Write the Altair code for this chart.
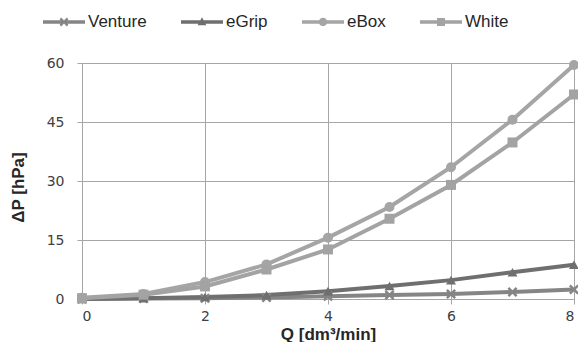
import altair as alt
import pandas as pd

# ---- data ----
Q = [0, 1, 2, 3, 4, 5, 6, 7, 8]
series_names = ["Venture", "eGrip", "eBox", "White"]
venture = [0.0, 0.1, 0.2, 0.4, 0.7, 1.0, 1.3, 1.8, 2.4]
egrip = [0.0, 0.2, 0.5, 1.0, 2.0, 3.3, 4.8, 6.8, 8.7]
ebox = [0.3, 1.3, 4.3, 8.8, 15.6, 23.4, 33.5, 45.6, 59.5]
white = [0.2, 1.1, 3.2, 7.5, 12.6, 20.4, 29.0, 39.8, 52.0]
x_ticks = [0, 2, 4, 6, 8]
y_ticks = [0, 15, 30, 45, 60]

rows = []
for name, vals in zip(series_names, [venture, egrip, ebox, white]):
    for q, v in zip(Q, vals):
        rows.append({"Q": q, "dP": v, "series": name})
df = pd.DataFrame(rows)

colors = ["#858585", "#6f6f6f", "#a5a5a5", "#a3a3a3"]

X_PATH = "M0,-0.35L0.65,-1L1,-0.65L0.35,0L1,0.65L0.65,1L0,0.35L-0.65,1L-1,0.65L-0.35,0L-1,-0.65L-0.65,-1Z"
LINE = "M-1,-0.085H1V0.085H-1Z"
s = 0.21
def sc(v):
    return round(v * s, 4)
X_SMALL = ("M0,{a}L{b},{c}L{d},{e}L{f},0L{d},{g}L{b},{h}L0,{i}L{j},{h}L{k},{g}L{l},0L{k},{e}L{j},{c}Z"
           .format(a=sc(-0.35), b=sc(0.65), c=sc(-1), d=sc(1), e=sc(-0.65), f=sc(0.35),
                   g=sc(0.65), h=sc(1), i=sc(0.35), j=sc(-0.65), k=sc(-1), l=sc(-0.35)))
legend_paths = [
    LINE + X_SMALL,
    LINE + "M0,-0.23L0.21,0.15L-0.21,0.15Z",
    LINE + "M0.2,0A0.2,0.2 0 1 1 -0.2,0A0.2,0.2 0 1 1 0.2,0Z",
    LINE + "M-0.19,-0.19H0.19V0.19H-0.19Z",
]

shape_expr = ("datum.series == 'Venture' ? '" + X_PATH + "' : datum.series == 'eGrip' ? 'triangle-up' : "
              "datum.series == 'eBox' ? 'circle' : 'square'")
color_expr = " : ".join(
    "datum.series == '{}' ? '{}'".format(n, c) for n, c in zip(series_names[:-1], colors[:-1])
) + " : '{}'".format(colors[-1])

grid_col = "#a6a6a6"

x_enc = alt.X("Q:Q", scale=alt.Scale(domain=[0, 8], nice=False),
              axis=alt.Axis(values=x_ticks, format="d", title="Q [dm³/min]", grid=True,
                            labelPadding=5, titleY=27))
y_enc = alt.Y("dP:Q", scale=alt.Scale(domain=[0, 60], nice=False),
              axis=alt.Axis(values=y_ticks, format="d", title="ΔP [hPa]", grid=True,
                            labelPadding=13, titleX=-55, titleY=124))

base = alt.Chart(df).transform_calculate(col=color_expr, shp=shape_expr)

lines = base.mark_line(strokeWidth=4).encode(
    x=x_enc, y=y_enc, color=alt.Color("col:N", scale=None), detail="series:N"
)

points = base.mark_point(filled=True, size=100, opacity=1).encode(
    x="Q:Q", y="dP:Q", color=alt.Color("col:N", scale=None),
    shape=alt.Shape("shp:N", scale=None)
)

leg = alt.Legend(title=None, orient="none", direction="horizontal", legendX=-39, legendY=-62,
                 symbolSize=1764, symbolStrokeWidth=0, symbolOpacity=1, labelFont="Liberation Sans",
                 labelFontSize=17, labelColor="#262626", labelOffset=3, columnPadding=34)

legend_layer = base.mark_point(filled=True, size=70, opacity=0).encode(
    x="Q:Q", y="dP:Q",
    color=alt.Color("series:N", scale=alt.Scale(domain=series_names, range=colors), legend=leg),
    shape=alt.Shape("series:N", scale=alt.Scale(domain=series_names, range=legend_paths), legend=leg),
)

chart = alt.layer(lines, points, legend_layer).properties(
    width=492, height=236,
    padding={"left": 74, "top": 55, "right": 4, "bottom": 43},
    autosize=alt.AutoSizeParams(type="none"),
).configure_view(stroke=None).configure_axis(
    gridColor=grid_col, gridWidth=1, domainColor=grid_col, tickColor=grid_col, tickSize=5,
    labelFont="DejaVu Sans", labelFontSize=14, labelColor="#404040",
    titleFont="Liberation Sans", titleFontSize=17, titleFontWeight="bold", titleColor="#262626",
)

chart.save("out.html", embed_options={"renderer": "svg", "actions": False})
